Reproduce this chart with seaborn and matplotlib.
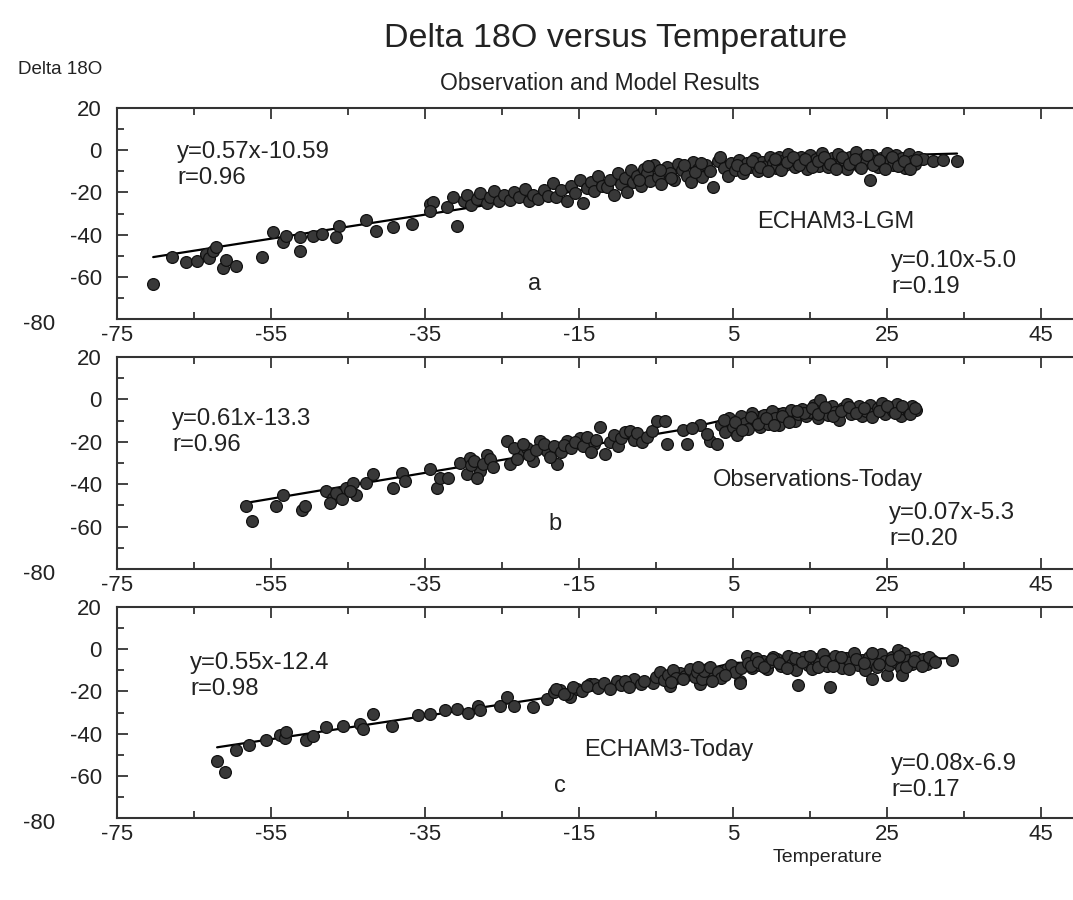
import numpy as np
import pandas as pd
import matplotlib
matplotlib.use('Agg')
import matplotlib.pyplot as plt
from matplotlib.ticker import FixedLocator
from matplotlib.transforms import ScaledTranslation
import seaborn as sns

# panel a: ECHAM3-LGM (temperature, delta 18O)
temp_a = [-70.3, -67.8, -66, -64.6, -63.4, -63, -62.5, -62.1, -61.2, -60.8, -59.5, -56.2,
          -54.7, -53.4, -53, -51.2, -49.5, -48.4, -51.2, -46.2, -46.5, -42.6, -41.3, -39.2,
          -36.7, -34.4, -34, -34.4, -32.2, -31.3, -30.9,
          -30, -29.5, -29, -28.3, -27.8, -27, -26.5, -26, -25.4, -24.8, -24, -23.5, -22.8,
          -22, -21.5, -21, -20.3, -19.6, -19, -18.4, -18, -17.3, -16.5, -16, -15.5, -14.9,
          -14.5, -14,
          -13.5, -13, -12.5, -12, -11.4, -11, -10.5, -10, -9.5, -9, -8.8, -8.3, -8,
          -7.5, -7, -6.6, -6.2, -5.8, -5.2, -4.8, -4.3, -3.6, -3.2, -2.7, -2.2, -1.6, -1,
          -0.5, -0.2, 0.4, 1,
          1.5, 2, 2.4, 3, 3.3, 3.8, 4.3, 4.8, 5.3, 5.8, 6.3, 6.8, 7.2, 7.8, 8.3, 8.8, 9.3, 9.8,
          10.2, 10.6, 11, 11.4, 11.8, 12.2, 12.6, 13, 13.4, 13.8, 14.2, 14.6, 15, 15.4, 15.8,
          16.2, 16.6, 17, 17.4, 17.8, 18.2, 18.6, 19, 19.4, 19.8, 20.2, 20.6, 21, 21.4, 21.8,
          22.2, 22.8, 23, 23.4, 23.8, 24.2, 24.6, 25, 25.4, 25.8, 26.2, 26.6, 27, 27.4, 27.8,
          28.2, 28.6, 29,
          29.7, 31, 32.3, 34.1,
          10.4, 11.2, 12, 12.8, 13.6, 14.4, 15.2, 16, 16.8, 17.6, 18.4, 19.2, 20, 20.8, 21.6,
          22.4, 23.2, 24, 24.8, 25.6, 26.4, 27.2, 28, 28.8, 5.5, 6.5, 7.5, 8.5, 9.5,
          -7.2, -6, -4.5, -3, -1.3, 0, 0.8]
d18o_a = [-63.3, -50.8, -53.2, -52.7, -49, -51, -47.6, -46, -55.6, -52, -55, -50.8,
          -38.9, -43.6, -40.5, -41.3, -40.5, -39.7, -47.6, -35.7, -41.3, -33.3, -38.1, -36.5,
          -35.2, -25.4, -24.6, -28.6, -27, -22.2, -35.7,
          -24, -21, -26, -23, -20.5, -25, -22, -19.5, -24, -21, -23.5, -20, -22,
          -18.5, -24, -21, -23, -19, -21.5, -15.7, -22, -19, -24, -17, -20.5, -14.3,
          -25, -18,
          -15, -19.5, -12, -17, -17.6, -14, -21, -11, -16, -13, -20, -9.5, -15,
          -12, -17, -9, -11, -14.5, -7, -12.5, -16, -8, -11, -14, -6.5, -9.5, -12,
          -15, -5.7, -9, -12.5,
          -7, -10, -17.6, -5, -3.3, -8.5, -12, -6, -9.5, -4.5, -11, -6.2, -8, -3.5, -10, -5.5, -7.5, -3.3,
          -6, -8.5, -3, -5, -7, -2, -4.5, -8, -6, -3, -5.5, -9, -2.5, -6.5, -4,
          -7.5, -1.5, -5, -8, -3.5, -6, -2, -7, -4.5, -9, -3, -5.5, -1, -7.5, -4,
          -6, -14.3, -2.5, -5, -8, -3.5, -6.5, -1.5, -4.5, -7, -2.5, -5.5, -3.5, -8.5, -2,
          -5, -6.5, -3,
          -4, -5, -4.5, -5,
          -4, -9.5, -5.5, -3, -7, -4, -8, -5, -3, -6.5, -9, -3, -6.5, -4, -8.5,
          -2.5, -7, -4.5, -9, -3, -7.5, -5, -9, -4.5, -7, -9, -5, -8, -10,
          -14, -7.5, -9.5, -13, -7, -10.5, -6]

# panel b: Observations-Today
temp_b = [-58.2, -57.5, -54.3, -53.4, -51, -50.6, -47.8, -46.9, -47.3, -45.2, -43.9, -44.3,
          -46.5, -45.8, -44.8,
          -42.6, -41.7, -39.1, -38, -37.6, -34.4, -33.5, -33.1, -32, -30.5, -29.6, -29.2,
          -27.9, -27, -28.3, -29, -28.6, -27.5, -26.6, -26.2,
          -24.4, -24, -22.7, -21.8, -21, -20.1, -19.2, -17.9, -16.6, -14.9, -13.1,
          -23.5, -23, -22.3, -21.5, -20.6, -19.6, -18.8, -18.3, -17.4, -16.9, -16, -15.5,
          -14.5, -14,
          -13.5, -12.8, -12.3, -11.6, -11, -10.5, -10,
          -9.5, -9, -8.4, -7.9, -7.5, -6.8, -6.2, -5.5, -4.9, -3.8, -3.6, -1, -1.5, 0.7, 2,
          2.9, 1.6, -0.3,
          3.5, 4, 4.5, 5, 5.5, 6, 6.5, 7, 7.5, 8, 8.5, 9, 9.5, 10, 10.5, 11, 11.5, 12, 12.5,
          13, 13.5,
          14, 14.5, 15, 15.5, 16, 16.3, 16.8, 17.3, 17.8, 18.3, 18.8, 19.3, 19.8, 20.3, 20.8,
          21.3, 21.8, 22.3, 22.8, 23.3, 23.8, 24.3, 24.8, 25.3, 25.8, 26.3, 26.8, 27.3, 27.8,
          28.3, 28.8,
          14.2, 15.2, 16.1, 17, 18, 19, 20, 21, 22, 23, 24, 25, 26, 27, 28, 28.6,
          3.8, 5.2, 6.2, 7.3, 8.3, 9.3, 10.3, 11.3, 12.3, 13.3]
d18o_b = [-50.5, -57.5, -50.5, -44.9, -52, -50.5, -43.3, -46.5, -48.9, -41.8, -44.9, -39.4,
          -44, -47, -43,
          -39.4, -35.4, -41.8, -34.6, -38.6, -33, -41.8, -37, -37, -29.9, -35.4, -27.5,
          -33.8, -26, -37, -31, -29, -30.5, -28, -32,
          -19.5, -30.6, -25.9, -22.7, -29, -19.5, -24.3, -30.6, -19.5, -18, -21.1,
          -23, -28, -21, -26, -24, -21, -27, -22, -25, -21.5, -23, -20,
          -22, -17.5,
          -25, -19, -13.2, -25.9, -20, -17, -22,
          -18, -15.5, -14.8, -19, -16, -20, -17.6, -15, -10, -10, -21, -21, -14.3, -11.9, -19.5,
          -21, -16.2, -13.5,
          -12, -15.5, -9, -13, -17, -8, -11, -14, -6.5, -10, -13, -7.5, -11.5, -5.5, -9, -12, -6.5, -8.5, -5,
          -10, -7,
          -4.5, -8, -6, -2.5, -9, -0.5, -5, -7.5, -3, -6, -9.5, -4, -2, -7, -5,
          -3, -8, -5.5, -2.5, -6.5, -4, -1.5, -7, -3.5, -5.5, -2, -8, -4.5, -6,
          -3, -5,
          -6.5, -4, -7, -3.5, -8, -5.5, -3.5, -6.5, -4, -8.5, -5.5, -3, -6.5, -3, -7, -4,
          -9.5, -10.5, -14.5, -8.5, -11.5, -9, -12, -8, -10.5, -5.5]

# panel c: ECHAM3-Today
temp_c = [-62, -61, -59.5, -57.9, -55.6, -53.8, -53.2, -53, -50.4, -49.5, -47.8, -45.6,
          -43.4, -43, -41.7, -39.3, -35.9, -34.4, -32.4, -30.9, -29.4, -28.1, -27.9, -25.3,
          -24.4, -23.5, -21, -19.2, -18.3, -17.5, -16.2, -15.3, -13.6,
          -16.6, -13.1, -10.1, -7.9, -5.4, -3.2, -1.9, 0.7, 1.6, 2.5, 4.2, 5.9, 6.8, 8.9, 10.7,
          -18, -17, -15.8, -14.6, -14, -12.5, -11.7, -11, -9.5, -9, -8.5, -7, -6.5,
          -5, -4.5, -4, -3.5, -2.8, -2.4, -1.2, -0.6, 0, 0.3, 1, 1.2, 2, 3, 3.5, 4.8, 5.3, 5.9, 6,
          7, 7.5, 8, 8.4, 9.4, 9.8, 10.2, 11.2, 11.7, 12.2, 12.7, 13.2, 13.4, 13.7, 14.2, 14.7,
          15.2, 15.7, 16.2, 16.7, 17.2, 17.6, 17.7, 18.2, 18.7, 19.2, 19.7, 20.2, 20.7, 21.2,
          21.7, 22.2, 22.7, 23.1, 23.2, 23.7, 24.2, 24.7, 25, 25.2, 25.7, 26.2, 26.4, 26.8, 27,
          27.2, 27.7, 28.2, 28.7, 29.2, 29.7, 30.2, 30.8, 33.4,
          7.3, 8.2, 9, 10, 11, 12, 13, 14, 15, 16, 17, 18, 19, 20, 21, 22, 23, 24, 25.5, 26.5,
          27.5, 28.5, 29.5, 30.5, 31.2, -3, -1.5, 0.5, 2.3, 4]
d18o_c = [-52.9, -58, -47.7, -45.2, -42.9, -40.5, -42, -39.4, -42.9, -41.3, -37, -36.2,
          -35.4, -37.8, -30.6, -36.2, -31.4, -30.6, -28.7, -28.2, -30.3, -27.1, -29, -26.7,
          -22.7, -26.7, -27.5, -23.5, -20.3, -19.5, -22.7, -18.7, -16.3,
          -21.4, -16.7, -15.1, -14.3, -15.9, -17.5, -11.1, -16.7, -9.5, -12.7, -9.5, -15.1, -3.2, -5.6, -4.8,
          -19, -21, -18, -20, -17.5, -18.5, -16, -19, -17, -15, -18, -16.5, -15,
          -13, -11, -14.5, -12, -10, -13.5, -12.5, -9.5, -13, -11, -14, -10.5, -8.5, -11, -13.5, -7.5, -11, -16, -9,
          -6.5, -9, -4, -7.5, -9.5, -6, -3.5, -8, -5.5, -3, -7, -10, -17.1, -5, -3.5, -7.5,
          -9.5, -4.5, -6.5, -2.5, -8, -17.9, -5, -3, -7, -9, -4, -6, -2, -7.5,
          -5, -10, -3.5, -13.9, -6, -8.5, -2.5, -5.5, -12.4, -7.5, -3.5, -6, -0.5, -9, -12.4,
          -2, -5, -7, -3.5, -6, -4.5, -7, -5, -5.2,
          -8, -6, -8.5, -4.5, -6.5, -9, -4, -6, -3, -8.5, -5.5, -8, -3.5, -9.5, -4.5, -6.5, -2, -7, -5, -3,
          -8.5, -5.5, -8, -3.5, -6, -15.5, -14, -8.5, -15, -12]

# regression lines: slope, intercept, x range of cold and warm part
fit_cold = [(0.57, -10.59, -70.3, -15), (0.61, -13.3, -58.4, -2), (0.55, -12.4, -62, -5)]
fit_warm = [(0.10, -5.0, 5, 34.1), (0.07, -5.3, 10, 28.8), (0.08, -6.9, 5, 33.4)]

eq_cold = ['y=0.57x-10.59\nr=0.96', 'y=0.61x-13.3\nr=0.96', 'y=0.55x-12.4\nr=0.98']
eq_warm = ['y=0.10x-5.0\nr=0.19', 'y=0.07x-5.3\nr=0.20', 'y=0.08x-6.9\nr=0.17']
names = ['ECHAM3-LGM', 'Observations-Today', 'ECHAM3-Today']
letters = ['a', 'b', 'c']

sns.set_style('ticks')
plt.rcParams['font.family'] = ['Liberation Sans', 'DejaVu Sans']
plt.rcParams['axes.unicode_minus'] = False

W, H = 1073, 900
fig = plt.figure(figsize=(W / 100, H / 100), dpi=100)

# pixel boxes of the panels (top, bottom)
boxes = [(108, 319), (357, 569), (607, 818)]
# text positions in pixels
eq_cold_pos = [(177, 165), (172, 432), (190, 676)]
eq_warm_pos = [(891, 274), (889, 526), (891, 777)]
name_pos = [(836, 222), (818, 480), (669, 750)]
letter_pos = [(535, 284), (555, 524), (560, 786)]

datasets = [(temp_a, d18o_a), (temp_b, d18o_b), (temp_c, d18o_c)]
left = 117
for i, (top, bot) in enumerate(boxes):
    ax = fig.add_axes([left / W, 1 - bot / H, 1 - left / W, (bot - top) / H])
    df = pd.DataFrame({'T': datasets[i][0], 'd': datasets[i][1]})
    sc, ic, x0, x1 = fit_cold[i]
    sw, iw, x2, x3 = fit_warm[i]
    lx = np.array([x0, x1, x2, x3])
    ly = np.array([sc * x0 + ic, sc * x1 + ic, sw * x2 + iw, sw * x3 + iw])
    ax.plot(lx, ly, color='black', lw=1.6, zorder=1)
    sns.scatterplot(data=df, x='T', y='d', ax=ax, s=72, color='#383838',
                    edgecolor='#111111', linewidth=0.9, zorder=2)
    ax.set_xlim(-75, -75 + (W - left) / 7.7)
    ax.set_ylim(-80, 20)
    ax.set_xticks(np.arange(-75, 46, 20))
    ax.xaxis.set_minor_locator(FixedLocator(np.arange(-65, 50, 20)))
    ax.set_yticks(np.arange(-80, 21, 20))
    ax.yaxis.set_minor_locator(FixedLocator(np.arange(-70, 20, 20)))
    ax.tick_params(which='both', direction='in', top=True, bottom=True, left=True,
                   right=False, width=1.2, colors='#222222', labelsize=16)
    ax.tick_params(which='major', length=8)
    ax.tick_params(which='minor', length=5)
    ax.tick_params(axis='x', pad=4)
    ax.tick_params(axis='y', pad=11)
    ax.set_xlabel('')
    ax.set_ylabel('')
    for sp in ['left', 'top', 'bottom']:
        ax.spines[sp].set_linewidth(1.5)
        ax.spines[sp].set_color('#333333')
    ax.spines['right'].set_visible(False)
    # move the -80 label out of the way of the -75 label
    lab = ax.get_yticklabels()[0]
    lab.set_transform(lab.get_transform() + ScaledTranslation(-0.47, -0.03, fig.dpi_scale_trans))

    fig.text(eq_cold_pos[i][0] / W, 1 - eq_cold_pos[i][1] / H, eq_cold[i], fontsize=17.3,
             va='center', ha='left', linespacing=1.2, color='#222222')
    fig.text(eq_warm_pos[i][0] / W, 1 - eq_warm_pos[i][1] / H, eq_warm[i], fontsize=17.3,
             va='center', ha='left', linespacing=1.2, color='#222222')
    fig.text(name_pos[i][0] / W, 1 - name_pos[i][1] / H, names[i], fontsize=17,
             va='center', ha='center', color='#222222')
    fig.text(letter_pos[i][0] / W, 1 - letter_pos[i][1] / H, letters[i], fontsize=17,
             va='center', ha='center', color='#222222')

fig.text(616 / W, 1 - 38 / H, 'Delta 18O versus Temperature', fontsize=24.5,
         ha='center', va='center', color='#222222')
fig.text(600 / W, 1 - 84 / H, 'Observation and Model Results', fontsize=16.5,
         ha='center', va='center', color='#222222')
fig.text(18 / W, 1 - 70 / H, 'Delta 18O', fontsize=13.5, ha='left', va='center',
         color='#222222')
fig.text(828 / W, 1 - 858 / H, 'Temperature', fontsize=14, ha='center', va='center',
         color='#222222')

fig.savefig('out.png', dpi=100)
